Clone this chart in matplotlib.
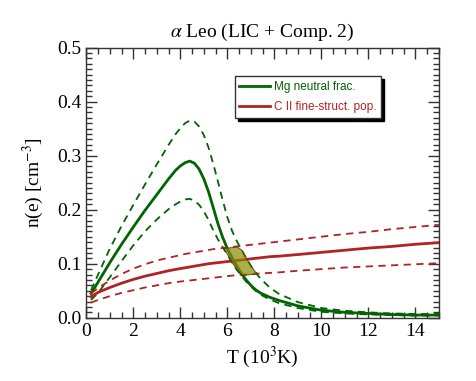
import matplotlib
matplotlib.use("Agg")
import matplotlib.pyplot as plt
import numpy as np

plt.rcParams['font.family'] = ['Liberation Serif', 'DejaVu Serif']
plt.rcParams['mathtext.fontset'] = 'stix'

# temperature grid (10^3 K)
T = np.array([0.2, 0.5, 1.0, 1.5, 2.0, 2.5, 3.0, 3.5, 3.8, 4.0, 4.2, 4.4, 4.6, 4.8, 5.0, 5.2, 5.4, 5.6,
              5.8, 6.0, 6.2, 6.4, 6.6, 6.8, 7.0, 7.2, 7.4, 7.8, 8.2, 9, 10, 11, 12, 13, 14, 15])

# Mg neutral fraction: best value and upper / lower bounds
mg = np.array([0.045, 0.066, 0.102, 0.136, 0.168, 0.199, 0.228, 0.257, 0.273, 0.281, 0.287, 0.290,
               0.286, 0.275, 0.257, 0.233, 0.204, 0.174, 0.149, 0.128, 0.111, 0.096, 0.082, 0.070,
               0.060, 0.052, 0.046, 0.038, 0.032, 0.022, 0.014, 0.010, 0.008, 0.006, 0.005, 0.005])
mg_hi = np.array([0.051, 0.080, 0.128, 0.170, 0.209, 0.247, 0.284, 0.320, 0.340, 0.351, 0.360, 0.365,
                  0.363, 0.354, 0.338, 0.315, 0.285, 0.252, 0.218, 0.186, 0.161, 0.142, 0.126, 0.110,
                  0.096, 0.084, 0.073, 0.056, 0.044, 0.029, 0.018, 0.013, 0.010, 0.008, 0.007, 0.007])
mg_lo = np.array([0.033, 0.046, 0.075, 0.105, 0.134, 0.160, 0.182, 0.201, 0.210, 0.215, 0.219, 0.220,
                  0.217, 0.209, 0.197, 0.181, 0.162, 0.145, 0.131, 0.117, 0.102, 0.089, 0.078, 0.067,
                  0.058, 0.050, 0.043, 0.034, 0.027, 0.018, 0.011, 0.008, 0.006, 0.005, 0.004, 0.004])

# C II fine-structure population
c2 = np.array([0.039, 0.047, 0.056, 0.064, 0.071, 0.077, 0.082, 0.087, 0.0895, 0.091, 0.0925, 0.094,
               0.0955, 0.097, 0.0985, 0.100, 0.101, 0.102, 0.103, 0.104, 0.105, 0.106, 0.107, 0.108,
               0.109, 0.110, 0.111, 0.113, 0.114, 0.117, 0.121, 0.125, 0.129, 0.132, 0.136, 0.139])
c2_hi = np.array([0.045, 0.055, 0.069, 0.081, 0.091, 0.099, 0.106, 0.111, 0.114, 0.116, 0.118, 0.1195,
                  0.121, 0.1225, 0.124, 0.1255, 0.127, 0.128, 0.129, 0.130, 0.131, 0.132, 0.133, 0.134,
                  0.135, 0.136, 0.137, 0.139, 0.141, 0.145, 0.150, 0.155, 0.159, 0.164, 0.168, 0.172])
c2_lo = np.array([0.028, 0.033, 0.040, 0.046, 0.051, 0.056, 0.060, 0.064, 0.066, 0.067, 0.068, 0.069,
                  0.070, 0.071, 0.072, 0.073, 0.074, 0.075, 0.076, 0.077, 0.078, 0.079, 0.0795, 0.080,
                  0.081, 0.0815, 0.082, 0.083, 0.084, 0.087, 0.090, 0.093, 0.095, 0.097, 0.099, 0.101])

green = '#006400'
red = '#b22222'
dash = (0, (4, 3))

fig = plt.figure(figsize=(4.77, 3.81), dpi=100)
ax = fig.add_axes([0.181, 0.166, 0.739, 0.709])

ax.plot(T, mg, color=green, lw=2, label='Mg neutral frac.')
ax.plot(T, mg_hi, color=green, lw=1.3, ls=dash)
ax.plot(T, mg_lo, color=green, lw=1.3, ls=dash)
ax.plot(T, c2, color=red, lw=2, label='C II fine-struct. pop.')
ax.plot(T, c2_hi, color=red, lw=1.3, ls=dash)
ax.plot(T, c2_lo, color=red, lw=1.3, ls=dash)

# overlap of the two allowed bands
bot = np.maximum(mg_lo, c2_lo)
top = np.minimum(mg_hi, c2_hi)
ax.fill_between(T, bot, top, where=(T > 5) & (top >= bot), interpolate=True,
                facecolor='#8b8b00', alpha=0.7, edgecolor='#333300', lw=0.8, zorder=3)

ax.set_xlim(0, 15)
ax.set_ylim(0, 0.5)
ax.set_xticks(np.arange(0, 15.1, 2))
ax.set_xticks(np.arange(0, 15.1, 0.5), minor=True)
ax.set_yticks(np.arange(0, 0.51, 0.1))
ax.set_yticks(np.arange(0, 0.501, 0.01), minor=True)
ax.set_yticklabels(['0.0', '0.1', '0.2', '0.3', '0.4', '0.5'])
ax.tick_params(which='both', direction='in', top=True, right=True, labelsize=14,
               color='#333333', labelfontfamily='Liberation Serif')
ax.tick_params(which='major', length=8, width=1)
ax.tick_params(which='minor', length=4, width=1)
for s in ax.spines.values():
    s.set_color('#333333')
    s.set_linewidth(1)

ax.set_title(r'$\alpha$ Leo (LIC + Comp. 2)', fontsize=14, pad=8)
ax.set_xlabel(r'T (10$^3$K)', fontsize=14, labelpad=4)
ax.set_ylabel(r'n(e) [cm$^{-3}$]', fontsize=14, labelpad=8)

leg = ax.legend(loc='upper left', bbox_to_anchor=(0.421, 0.894), borderaxespad=0,
                prop={'family': 'Liberation Sans', 'size': 8.5}, fancybox=False,
                edgecolor='#333333', handlelength=2.6, handletextpad=0.3, labelspacing=0.7,
                shadow={'color': 'black', 'alpha': 1})
leg.get_frame().set_linewidth(1)
for txt, col in zip(leg.get_texts(), [green, red]):
    txt.set_color(col)

fig.savefig('out.png', dpi=100)
